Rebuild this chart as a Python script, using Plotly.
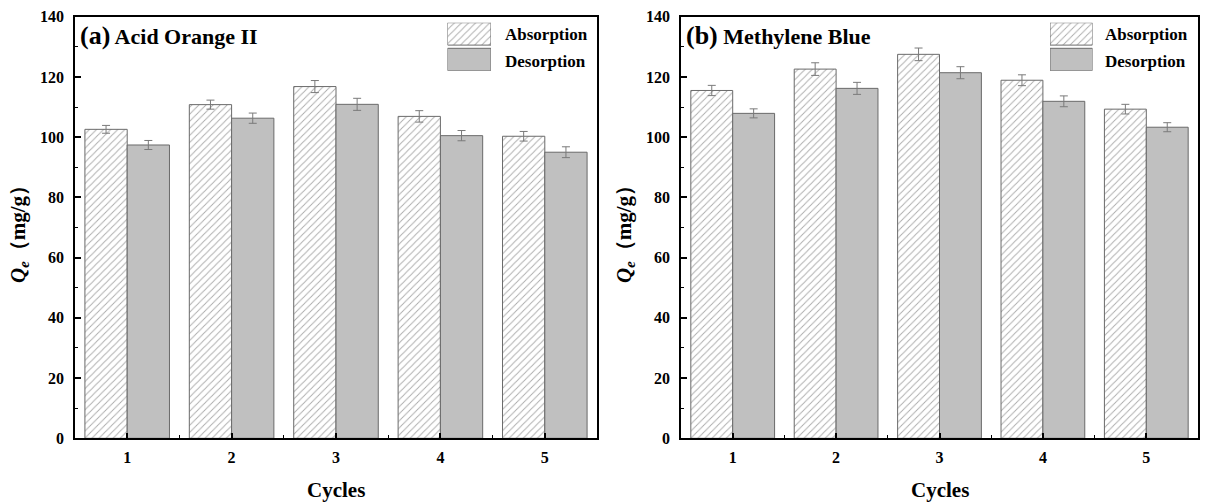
import plotly.graph_objects as go

# ---------------- data ----------------
cycles = [1, 2, 3, 4, 5]
aoii_abs = [102.6, 110.8, 116.8, 106.9, 100.3]
aoii_abs_err = [1.3, 1.5, 2.0, 1.9, 1.6]
aoii_des = [97.4, 106.3, 110.9, 100.5, 95.0]
aoii_des_err = [1.5, 1.7, 2.0, 1.7, 1.8]
mb_abs = [115.5, 122.6, 127.5, 118.9, 109.3]
mb_abs_err = [1.7, 2.1, 2.1, 1.8, 1.6]
mb_des = [107.9, 116.2, 121.4, 111.9, 103.3]
mb_des_err = [1.5, 2.0, 2.0, 1.8, 1.5]
series_names = ["Absorption", "Desorption"]
panel_titles = ["(a)", "(b)"]
panel_subtitles = ["Acid Orange II", "Methylene Blue"]
y_ticks = [0, 20, 40, 60, 80, 100, 120, 140]

W, H = 1208, 502
FONT = "Liberation Serif"
OUTLINE = "#6a6a6a"
DES_FILL = "#c0c0c0"
HATCH = "#555555"
ERR = "#7a7a7a"

def px(x):
    return x / W

def py(y):
    return (H - y) / H

abs_marker = dict(color="white", line=dict(color=OUTLINE, width=1),
                  pattern=dict(shape="/", fgcolor=HATCH, bgcolor="white", size=5, solidity=0.18))
des_marker = dict(color=DES_FILL, line=dict(color=OUTLINE, width=1))

fig = go.Figure()

panels = [
    (aoii_abs, aoii_abs_err, aoii_des, aoii_des_err, "x", "y"),
    (mb_abs, mb_abs_err, mb_des, mb_des_err, "x2", "y2"),
]
for a, ae, d, de, xa, ya in panels:
    fig.add_trace(go.Bar(x=cycles, y=a, name=series_names[0], marker=abs_marker,
                         error_y=dict(type="data", array=ae, color=ERR, thickness=1, width=4),
                         xaxis=xa, yaxis=ya, showlegend=False))
    fig.add_trace(go.Bar(x=cycles, y=d, name=series_names[1], marker=des_marker,
                         error_y=dict(type="data", array=de, color=ERR, thickness=1, width=4),
                         xaxis=xa, yaxis=ya, showlegend=False))

# legend swatches drawn as bars on small hidden axes
for xa, ya in [("x3", "y3"), ("x4", "y4")]:
    fig.add_trace(go.Bar(x=[1], y=[1], orientation="h", width=0.875, offset=-0.4375,
                         marker=abs_marker, xaxis=xa, yaxis=ya, showlegend=False, hoverinfo="skip"))
    fig.add_trace(go.Bar(x=[1], y=[0], orientation="h", width=0.875, offset=-0.4375,
                         marker=des_marker, xaxis=xa, yaxis=ya, showlegend=False, hoverinfo="skip"))

ydom = [py(438.3), py(16.7)]
ax_common = dict(showline=True, linecolor="black", linewidth=1.6, mirror=True,
                 ticks="inside", ticklen=6, tickwidth=1.5, tickcolor="black",
                 showgrid=False, zeroline=False, automargin=False,
                 tickfont=dict(family=FONT, size=16, color="black", weight="bold"))
xaxis_cfg = dict(ax_common, range=[0.5, 5.5], tickvals=cycles, ticklabelstandoff=4,
                 minor=dict(tickvals=[1.5, 2.5, 3.5, 4.5], ticks="inside", ticklen=4,
                            tickwidth=1.2, tickcolor="black"))
yaxis_cfg = dict(ax_common, range=[0, 140], tickvals=y_ticks, ticklabelstandoff=6,
                 minor=dict(dtick=10, ticks="inside", ticklen=3, tickwidth=1.2, tickcolor="black"))

ax_a = (75, 597)
ax_b = (681, 1198)

hidden = dict(visible=False, fixedrange=True, automargin=False)

fig.update_layout(
    width=W, height=H, autosize=False,
    margin=dict(l=0, r=0, t=0, b=0, pad=0, autoexpand=False),
    paper_bgcolor="white", plot_bgcolor="white",
    barmode="group", bargap=0.19, bargroupgap=0,
    showlegend=False,
    xaxis=dict(xaxis_cfg, domain=[px(ax_a[0]), px(ax_a[1])], anchor="y"),
    yaxis=dict(yaxis_cfg, domain=ydom, anchor="x"),
    xaxis2=dict(xaxis_cfg, domain=[px(ax_b[0]), px(ax_b[1])], anchor="y2"),
    yaxis2=dict(yaxis_cfg, domain=ydom, anchor="x2"),
    xaxis3=dict(hidden, range=[0, 1], domain=[px(447.5), px(491)], anchor="y3"),
    yaxis3=dict(hidden, range=[-0.4375, 1.4375], domain=[py(70.7), py(22.7)], anchor="x3"),
    xaxis4=dict(hidden, range=[0, 1], domain=[px(1050), px(1092.5)], anchor="y4"),
    yaxis4=dict(hidden, range=[-0.4375, 1.4375], domain=[py(70.7), py(22.7)], anchor="x4"),
)

annos = []
for i, (x0, x1) in enumerate([ax_a, ax_b]):
    # panel label
    annos.append(dict(x=px(x0 + 3), y=py(35), xref="paper", yref="paper", xanchor="left", yanchor="middle",
                      text=f"<b><span style='font-size:26px'>{panel_titles[i]}</span> {panel_subtitles[i]}</b>",
                      showarrow=False, font=dict(family=FONT, size=22, color="black")))
    # legend texts
    lx = 502.6 if i == 0 else 1103
    annos.append(dict(x=px(lx), y=py(34.5), xref="paper", yref="paper", xanchor="left", yanchor="middle",
                      text=f"<b>{series_names[0]}</b>", showarrow=False,
                      font=dict(family=FONT, size=17, color="black")))
    annos.append(dict(x=px(lx), y=py(61.5), xref="paper", yref="paper", xanchor="left", yanchor="middle",
                      text=f"<b>{series_names[1]}</b>", showarrow=False,
                      font=dict(family=FONT, size=17, color="black")))
    # x title
    annos.append(dict(x=px((x0 + x1) / 2), y=py(490), xref="paper", yref="paper", xanchor="center", yanchor="middle",
                      text="<b>Cycles</b>", showarrow=False, font=dict(family=FONT, size=21, color="black")))
    # y title
    annos.append(dict(x=px(x0 - 56), y=py(229), xref="paper", yref="paper", xanchor="center", yanchor="middle",
                      textangle=-90, text="<b><i>Q</i><sub><i>e</i></sub>（mg/g）</b>", showarrow=False,
                      font=dict(family=FONT, size=21, color="black")))

fig.update_layout(annotations=annos)
fig.write_html("out.html", config={"displayModeBar": False},
               post_script="document.body.style.margin='0px';document.body.style.overflow='hidden';")
